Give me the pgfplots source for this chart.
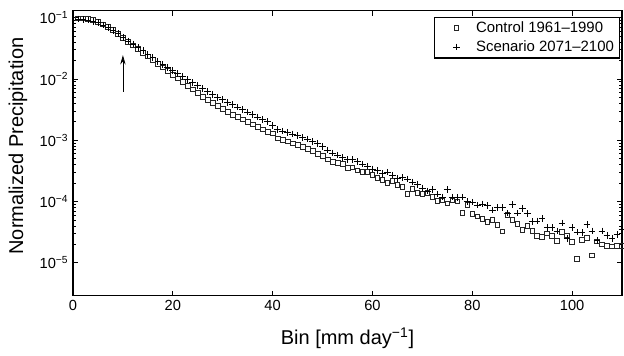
\documentclass[border=0pt]{standalone}
\usepackage{pgfplots}
\pgfplotsset{compat=1.18}
\usepackage{pgfplotstable}
\usepackage{fontspec}
\setmainfont{Liberation Sans}
\usetikzlibrary{arrows.meta}

\pgfplotstableread{
x c s
1 9.77e-2 9.55e-2
2 9.77e-2 9.33e-2
3 9.55e-2 9.12e-2
4 9.12e-2 8.71e-2
5 8.51e-2 8.32e-2
6 7.76e-2 7.59e-2
7 7.08e-2 6.92e-2
8 6.31e-2 6.17e-2
9 5.50e-2 5.50e-2
10 4.68e-2 4.79e-2
11 4.07e-2 4.17e-2
12 3.55e-2 3.72e-2
13 3.09e-2 3.24e-2
14 2.69e-2 2.88e-2
15 2.34e-2 2.51e-2
16 2.04e-2 2.24e-2
17 1.78e-2 1.95e-2
18 1.55e-2 1.74e-2
19 1.35e-2 1.55e-2
20 1.18e-2 1.38e-2
21 1.02e-2 1.23e-2
22 8.91e-3 1.10e-2
23 7.76e-3 9.77e-3
24 6.76e-3 8.71e-3
25 5.89e-3 7.76e-3
26 5.13e-3 6.92e-3
27 4.57e-3 6.17e-3
28 4.07e-3 5.62e-3
29 3.63e-3 5.01e-3
30 3.24e-3 4.57e-3
31 2.88e-3 4.17e-3
32 2.63e-3 3.80e-3
33 2.40e-3 3.47e-3
34 2.19e-3 3.16e-3
35 2.00e-3 2.88e-3
36 1.82e-3 2.63e-3
37 1.66e-3 2.40e-3
38 1.51e-3 2.19e-3
39 1.38e-3 2.00e-3
40 1.29e-3 1.74e-3
41 1.07e-3 1.51e-3
42 1.02e-3 1.41e-3
43 9.55e-4 1.35e-3
44 8.91e-4 1.26e-3
45 8.32e-4 1.18e-3
46 7.76e-4 1.10e-3
47 7.24e-4 1.05e-3
48 6.76e-4 9.55e-4
49 6.03e-4 8.91e-4
50 5.50e-4 7.94e-4
51 4.90e-4 6.92e-4
52 4.47e-4 6.17e-4
53 4.27e-4 5.75e-4
54 4.07e-4 5.25e-4
55 3.55e-4 4.79e-4
56 3.63e-4 4.79e-4
57 3.24e-4 4.47e-4
58 3.02e-4 4.07e-4
59 3.02e-4 3.80e-4
60 2.75e-4 3.39e-4
61 2.45e-4 3.24e-4
62 2.24e-4 2.88e-4
63 2.04e-4 3.02e-4
64 2.19e-4 2.69e-4
65 1.86e-4 2.40e-4
66 1.74e-4 2.45e-4
67 1.35e-4 2.34e-4
68 1.62e-4 2.09e-4
69 1.38e-4 1.91e-4
70 1.35e-4 1.66e-4
71 1.38e-4 1.48e-4
72 1.20e-4 1.55e-4
73 1.02e-4 1.32e-4
74 1.05e-4 1.18e-4
75 9.33e-5 1.55e-4
76 1.05e-4 1.18e-4
77 1.00e-4 1.15e-4
78 6.46e-5 1.18e-4
79 8.71e-5 1.00e-4
80 6.31e-5 9.77e-5
81 5.75e-5 8.71e-5
82 5.25e-5 9.12e-5
83 4.68e-5 8.51e-5
84 5.01e-5 7.24e-5
85 4.17e-5 7.94e-5
86 3.24e-5 7.94e-5
87 6.03e-5 6.46e-5
88 5.01e-5 8.91e-5
89 4.27e-5 6.46e-5
90 3.47e-5 7.76e-5
91 3.98e-5 6.31e-5
92 3.31e-5 4.68e-5
93 2.75e-5 4.79e-5
94 2.63e-5 5.25e-5
95 3.02e-5 3.72e-5
96 2.75e-5 3.72e-5
97 2.29e-5 3.31e-5
98 3.16e-5 4.47e-5
99 2.82e-5 2.51e-5
100 2.19e-5 3.72e-5
101 1.15e-5 3.16e-5
102 2.34e-5 3.09e-5
103 2.57e-5 4.17e-5
104 1.32e-5 3.31e-5
105 2.24e-5 2.29e-5
106 2.00e-5 3.31e-5
107 1.91e-5 2.82e-5
108 1.86e-5 2.51e-5
109 1.91e-5 2.88e-5
110 1.91e-5 3.55e-5
}\datatable

\begin{document}
\begin{tikzpicture}
\useasboundingbox (-54.75pt,-45pt) rectangle (413.25pt,221.9pt);
\begin{axis}[
  scale only axis, width=411.75pt, height=214pt,
  xmin=0, xmax=110, ymode=log, ymin=2.88e-6, ymax=0.131,
  xtick={0,20,40,60,80,100},
  ytick={1e-5,1e-4,1e-3,1e-2,1e-1},
  yticklabels={10\textsuperscript{−5},10\textsuperscript{−4},10\textsuperscript{−3},10\textsuperscript{−2},10\textsuperscript{−1}},
  axis line style={line width=0.8pt},
  tick style={black, line width=0.5pt},
  major tick length=4pt, minor tick length=2.2pt,
  ticklabel style={font=\fontsize{11}{13}\selectfont},
  /pgf/number format/assume math mode=true,
  xlabel={Bin [mm day\textsuperscript{−1}]},
  ylabel={Normalized Precipitation},
  label style={font=\fontsize{15}{18}\selectfont},
  xlabel style={at={(axis description cs:0.5,-0.147)},anchor=center},
  ylabel style={at={(axis description cs:-0.1002,0.525)},anchor=center},
  legend style={at={(rel axis cs:0.996,0.979)}, anchor=north east, draw=black, line width=0.8pt, font=\fontsize{11.2}{13}\selectfont, inner xsep=2pt, inner ysep=1.5pt, row sep=0.5pt},
  legend cell align=left,
  legend image code/.code={\path[draw=none,fill=none] (0cm,-0.1cm) rectangle (0.95cm,0.1cm); \draw[#1] plot coordinates {(0.5cm,0cm)};},
]
\addplot[only marks, mark=square, mark size=1.75pt, mark options={line width=0.5pt, draw=black!85}] table[x=x,y=c]{\datatable};
\addlegendentry{Control 1961–1990}
\addplot[only marks, mark=+, mark size=2.5pt, mark options={line width=0.55pt, draw=black}] table[x=x,y=s]{\datatable};
\addlegendentry{Scenario 2071–2100}
\draw[-{Stealth[length=7pt,width=4pt]}, line width=0.6pt] (axis cs:10,6.2e-3) -- (axis cs:10,2.45e-2);
\end{axis}
\end{tikzpicture}
\end{document}
